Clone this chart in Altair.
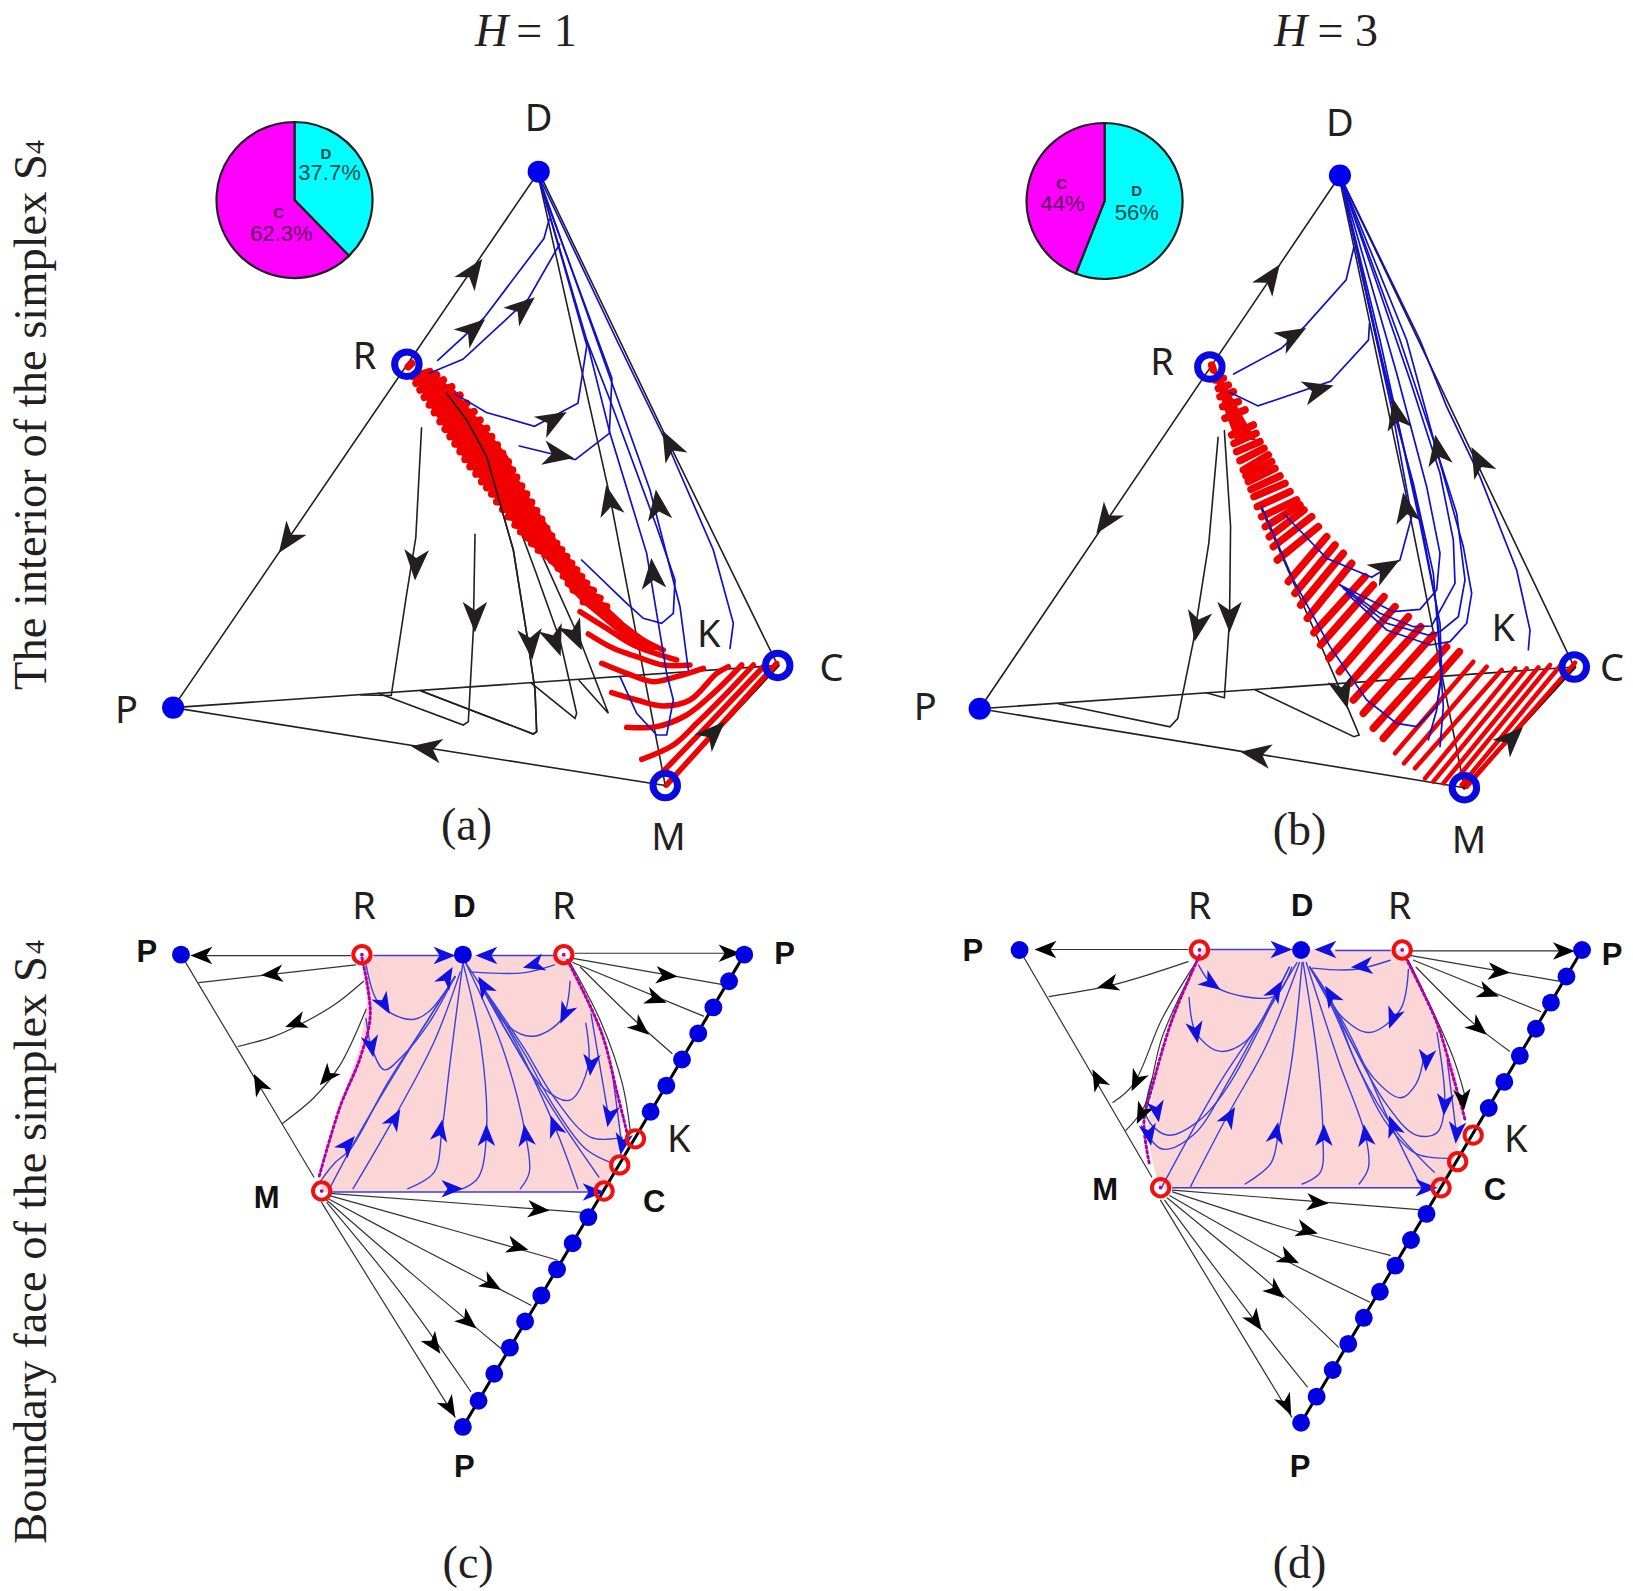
import altair as alt
import pandas as pd

# Reading frames: name -> (left, top, x factor, y factor). Every coordinate below was read in one of them.
CROPS = {
    "a": (0, 0, 1.912, 1.823),
    "b": (820, 0, 1.929, 1.823),
    "c": (0, 860, 1.912, 2.145),
    "d": (820, 860, 1.929, 2.145),
    "a5": (380, 340, 3, 3),
    "b6": (1180, 340, 3, 3),
}
INK = "#231f20"


def place(crop, pts):
    ox, oy, sx, sy = CROPS[crop]
    return [(ox + p[0] / sx, oy + p[1] / sy) + tuple(p[2:]) for p in pts]


# ---------- panel (a) ----------
A_STRAIGHT = [
    [(331, 1290), (1030, 313)],
    [(331, 1290), (1487, 1213)],
    [(331, 1290), (1272, 1432)],
    [(1030, 313), (1270, 790), (1487, 1213)],
    [(1030, 325), (1165, 900), (1272, 1432)],
    [(806, 780), (795, 980), (778, 1080), (748, 1268), (690, 1267)],
]
A5_BLACK = [
    [(285, 583), (280, 870), (265, 1145), (250, 1155), (-5, 1060)],
    [(200, 160), (260, 240), (320, 350), (400, 630), (440, 880), (465, 1050), (470, 1175), (460, 1182), (122, 1052)],
    [(320, 350), (365, 420), (465, 690), (540, 900), (590, 1120), (585, 1135), (455, 1030)],
    [(490, 655), (600, 900), (685, 1120), (598, 1022)],
]
A_BLUE = [
    [(837, 657), (925, 580), (1040, 435), (1050, 400)],
    [(822, 680), (885, 655), (1010, 545), (1070, 445)],
    [(870, 718), (930, 752), (1022, 777), (1105, 735), (1122, 630), (1035, 340)],
    [(993, 813), (1100, 838), (1165, 790), (1170, 690), (1035, 340)],
]
A5_BLUE = [
    [(605, 660), (740, 790), (790, 835), (845, 850), (880, 820), (885, 720), (830, 560), (690, 180), (620, 0), (471, -504)],
    [(620, 0), (690, 280), (800, 640), (860, 1000), (880, 1080), (860, 1185), (830, 1185), (770, 1120), (720, 1010)],
    [(471, -504), (650, 0), (810, 450), (900, 800), (925, 990)],
    [(471, -504), (710, 0), (870, 330), (1000, 630), (1060, 850), (1050, 925)],
]
A_EDGE_MC = [(1272, 1432), (1487, 1213)]
A5_FILL_Y = [95, 150, 200, 250, 300, 350, 400, 450, 500, 550, 600, 650, 700, 750, 800, 850, 900, 930]
A5_FILL_L = [95, 122, 150, 183, 215, 247, 285, 328, 363, 400, 437, 490, 540, 570, 620, 680, 740, 800]
A5_FILL_R = [150, 225, 265, 305, 345, 385, 405, 435, 465, 500, 530, 565, 597, 635, 682, 735, 800, 850]
A5_RED_BAND = [
    [(85, 80), (95, 70)], [(100, 110), (150, 95)], [(108, 130), (170, 105)], [(120, 150), (190, 120)],
    [(133, 172), (215, 140)], [(148, 195), (240, 165)], [(163, 218), (260, 190)], [(180, 245), (282, 215)],
    [(195, 268), (300, 240)], [(210, 290), (320, 265)], [(225, 312), (335, 290)], [(240, 335), (352, 315)],
    [(255, 358), (368, 340)], [(270, 380), (385, 365)], [(288, 402), (398, 390)], [(305, 425), (410, 412)],
    [(320, 443), (425, 438)], [(335, 462), (440, 462)], [(350, 485), (455, 487)], [(368, 508), (470, 512)],
    [(385, 530), (485, 538)], [(405, 555), (500, 565)], [(422, 575), (515, 588)], [(440, 592), (530, 610)],
    [(455, 610), (545, 630)], [(475, 630), (560, 650)], [(495, 645), (575, 670)], [(515, 662), (590, 690)],
    [(535, 685), (605, 710)], [(550, 708), (620, 730)], [(565, 730), (640, 752)], [(580, 750), (660, 775)],
    [(610, 785), (680, 800)],
]
A5_RED_FAN = [
    [(640, 790), (720, 850), (790, 900), (850, 930)],
    [(600, 815), (680, 865), (760, 915), (890, 960)],
    [(625, 882), (700, 925), (770, 950), (850, 975), (930, 975)],
    [(665, 970), (740, 1000), (820, 1025), (890, 1010), (970, 985)],
    [(695, 1058), (770, 1080), (850, 1098), (930, 1080), (1010, 1000), (1045, 980)],
    [(740, 1162), (830, 1160), (920, 1125), (1000, 1060), (1085, 975)],
    [(785, 1258), (880, 1215), (950, 1150), (1040, 1060), (1120, 975)],
    [(820, 1325), (960, 1180), (1155, 975)],
    [(860, 1335), (1190, 970)],
]
A_ARROWS = [
    (905, 495, 35), (550, 985, 215), (815, 1365, 279), (1365, 1335, 45), (1280, 810, 333),
    (1165, 912, 348), (905, 600, 50), (1000, 560, 50), (1058, 765, 60), (1068, 830, 100),
    (1258, 920, 352), (1248, 1045, 355), (795, 1030, 183), (908, 1125, 180),
    (1015, 1175, 175), (1062, 1170, 160), (1100, 1160, 155),
]
A_BLUE_DOTS = [(1030, 313), (331, 1290)]
A_RINGS = [(778, 664), (1272, 1432), (1487, 1213)]

# ---------- panel (b) ----------
B_STRAIGHT = [
    [(308, 1292), (1003, 320)],
    [(308, 1292), (1455, 1216)],
    [(308, 1292), (1243, 1436)],
    [(1003, 320), (1260, 830), (1455, 1216)],
    [(1003, 330), (1130, 900), (1243, 1436)],
    [(768, 797), (750, 990), (720, 1170), (690, 1310), (675, 1325), (460, 1283)],
    [(780, 785), (792, 960), (790, 1130), (780, 1272), (745, 1263)],
    [(850, 925), (1000, 1250), (1040, 1340), (1030, 1343), (840, 1258)],
]
B_BLUE = [
    [(798, 682), (890, 635), (935, 595), (1015, 510), (1030, 450)],
    [(790, 715), (845, 740), (985, 695), (1058, 620), (1060, 590)],
]
B6_BLUE = [
    [(480, -493), (645, 230), (700, 430), (760, 700), (780, 950), (790, 1100), (780, 1220)],
    [(480, -493), (590, 0), (650, 230), (720, 530), (770, 800), (785, 1000), (770, 1110), (745, 1200)],
    [(245, 500), (340, 720), (450, 920), (560, 1080), (650, 1150), (710, 1160), (770, 1100), (785, 1000), (780, 850), (720, 550), (600, 0), (480, -493)],
    [(315, 525), (440, 655), (575, 712), (660, 660), (695, 530), (640, 230), (480, -493)],
    [(480, 735), (640, 815), (720, 808), (770, 750), (780, 640), (740, 440), (650, 100), (480, -493)],
    [(480, 735), (600, 820), (700, 860), (755, 858), (825, 730), (820, 600), (780, 400), (690, 120), (480, -493)],
    [(490, 745), (620, 850), (745, 885), (780, 875), (835, 830), (855, 720), (830, 520), (760, 300), (660, 0), (480, -493)],
    [(500, 760), (620, 870), (750, 915), (810, 905), (860, 850), (875, 760), (850, 620), (775, 350), (680, 0), (480, -493)],
    [(1045, 930), (1050, 870), (1010, 690), (900, 410), (800, 200), (720, 0), (480, -493)],
]
B_EDGE_MC = [(1243, 1436), (1455, 1216)]
B6_FILL_Y = [75, 150, 200, 250, 300]
B6_FILL_L = [92, 116, 130, 148, 166]
B6_FILL_R = [100, 145, 172, 200, 228]
B6_RED_THICK = [
    [(95, 75), (100, 90)], [(105, 120), (130, 115)], [(115, 145), (145, 135)], [(120, 170), (160, 155)],
    [(128, 200), (175, 185)], [(135, 235), (195, 210)], [(155, 285), (220, 255)], [(162, 310), (228, 280)],
    [(170, 335), (240, 305)], [(180, 362), (252, 325)], [(190, 390), (265, 345)], [(198, 408), (275, 365)],
    [(205, 425), (285, 385)], [(213, 448), (300, 408)], [(222, 470), (315, 430)],
    [(232, 500), (330, 455)], [(245, 530), (350, 480)], [(256, 560), (360, 495)], [(268, 590), (372, 510)], [(280, 620), (395, 530)],
    [(292, 660), (415, 560)], [(325, 725), (440, 590)], [(345, 760), (465, 615)],
    [(362, 795), (490, 640)], [(382, 835), (515, 670)], [(402, 878), (555, 710)],
    [(422, 915), (580, 735)], [(447, 955), (612, 770)], [(478, 995), (645, 800)],
    [(510, 1030), (685, 830)], [(520, 1080), (722, 860)], [(550, 1120), (760, 885)],
    [(580, 1165), (800, 920)], [(610, 1195), (838, 935)],
]
B6_RED_THIN = [
    [(645, 1240), (880, 965)], [(672, 1270), (920, 980)], [(705, 1285), (965, 990)],
    [(735, 1315), (1005, 985)], [(760, 1325), (1040, 985)], [(790, 1330), (1075, 982)],
    [(815, 1335), (1110, 975)], [(845, 1335), (1145, 972)], [(860, 1340), (1185, 968)],
]
B_ARROWS = [
    (870, 505, 35), (550, 950, 215), (840, 1375, 279), (1335, 1345, 45), (1270, 840, 333),
    (1112, 755, 348), (1130, 925, 350), (1192, 820, 350), (912, 612, 60), (962, 710, 75),
    (1092, 1035, 60), (728, 1142, 190), (790, 1125, 180), (1010, 1265, 165),
]
B_BLUE_DOTS = [(1003, 320), (308, 1292)]
B_RINGS = [(752, 669), (1243, 1436), (1455, 1216)]

# ---------- panel (c) ----------
C_PINK_Y = [205, 300, 400, 530, 600, 712]
C_PINK_L = [692, 702, 688, 650, 630, 612]
C_PINK_R = [1080, 1128, 1160, 1185, 1190, 1155]
C_BLACK = [
    [(670, 205), (370, 205)], [(1100, 200), (1405, 200)], [(346, 203), (600, 680)],
    [(680, 225), (380, 263)],
    [(695, 260), (640, 310), (570, 355), (520, 380), (455, 400)],
    [(700, 320), (650, 440), (600, 510), (540, 565)],
    [(630, 715), (1125, 757)], [(630, 720), (885, 800), (1065, 858)],
    [(625, 725), (800, 830), (1015, 955)], [(625, 730), (790, 890), (960, 1050)],
    [(625, 735), (760, 920), (900, 1140)], [(615, 735), (870, 1195)],
    [(1090, 210), (1385, 268)], [(1095, 220), (1345, 335)],
    [(1110, 230), (1210, 340), (1285, 415)],
    [(1090, 220), (1150, 350), (1190, 480), (1205, 580)],
]
C_EDGE = [(885, 1216), (1423, 203)]
C_BLUE = [
    [(715, 205), (860, 205)], [(930, 205), (1060, 205)], [(635, 712), (1150, 712)],
    [(1060, 225), (1000, 242), (900, 240)],
    [(700, 225), (720, 300), (750, 330), (790, 342), (820, 325), (870, 250)],
    [(700, 340), (710, 400), (735, 450), (770, 420), (820, 350), (870, 250)],
    [(612, 690), (640, 650), (670, 620), (740, 480), (820, 340), (870, 250)],
    [(630, 705), (690, 580), (770, 430), (870, 250)],
    [(675, 705), (750, 560), (830, 390), (880, 240)],
    [(780, 705), (830, 670), (845, 580), (860, 440), (885, 220)],
    [(885, 705), (915, 680), (930, 590), (920, 400), (885, 220)],
    [(995, 705), (1012, 670), (1005, 590), (960, 400), (890, 220)],
    [(1105, 705), (1060, 570), (980, 380), (890, 220)],
    [(1145, 680), (1060, 540), (970, 370), (915, 260)],
    [(1170, 650), (1120, 620), (1060, 530), (1000, 410), (915, 260)],
    [(1190, 595), (1130, 595), (1060, 510), (1000, 400), (915, 260)],
    [(1120, 350), (1125, 440), (1090, 515), (1040, 490), (980, 390), (915, 260)],
    [(1090, 260), (1075, 340), (1020, 378), (970, 355), (915, 260)],
    [(1130, 330), (1165, 560)], [(1170, 450), (1190, 620)],
]
C_MAGENTA = [
    [(692, 210), (708, 330), (690, 420), (650, 530), (610, 680)],
    [(1085, 215), (1150, 370), (1180, 500), (1200, 590)],
]
C_ARROWS_BLACK = [
    (385, 205, 270), (1395, 200, 90), (495, 480, 333), (520, 245, 265), (565, 350, 250),
    (625, 465, 220), (1030, 750, 95), (990, 830, 105), (940, 910, 120), (895, 990, 130),
    (830, 1040, 145), (860, 1175, 150), (1275, 248, 95), (1255, 298, 110), (1225, 360, 130),
]
C_ARROWS_BLUE = [
    (850, 205, 90), (930, 205, 270), (1020, 225, 255), (735, 310, 150), (710, 400, 170),
    (665, 610, 40), (755, 555, 30), (842, 580, 10), (930, 590, 0), (1005, 590, 352),
    (1060, 570, 340), (925, 270, 330), (1130, 440, 185), (1080, 330, 205),
    (1165, 550, 190), (1190, 610, 190), (865, 705, 90), (1135, 712, 90), (855, 250, 30),
]
C_BLUE_DOTS = [
    (346, 203), (885, 203), (1423, 203), (885, 1216), (1394, 260), (1364, 316), (1335, 372),
    (1304, 428), (1274, 484), (1244, 540), (1125, 766), (1095, 822), (1065, 878), (1035, 934),
    (1004, 990), (975, 1046), (945, 1102), (915, 1160),
]
C_RINGS = [(692, 203), (1078, 203), (615, 710), (1155, 710), (1185, 654), (1215, 598)]
C_CENTERS = [(692, 203), (1078, 203), (615, 710)]

# ---------- panel (d) ----------
D_PINK_Y = [192, 310, 450, 580, 640, 705]
D_PINK_L = [732, 690, 650, 630, 640, 655]
D_PINK_R = [1125, 1170, 1225, 1240, 1225, 1198]
D_BLACK = [
    [(710, 192), (430, 192)], [(1140, 195), (1440, 195)], [(385, 193), (640, 680)],
    [(710, 218), (565, 268), (442, 293)],
    [(725, 220), (660, 340), (605, 480), (565, 520)],
    [(720, 235), (660, 380), (625, 530), (590, 580)],
    [(680, 708), (1155, 750)], [(680, 712), (900, 790), (1100, 848)],
    [(675, 720), (900, 860), (1060, 948)], [(670, 725), (880, 920), (1000, 1045)],
    [(665, 730), (840, 990), (940, 1130)], [(657, 730), (910, 1195)],
    [(1140, 205), (1425, 260)], [(1145, 215), (1390, 325)],
    [(1150, 230), (1260, 350), (1330, 410)],
    [(1135, 215), (1220, 420), (1245, 510)],
]
D_EDGE = [(928, 1207), (1470, 193)]
D_BLUE = [
    [(745, 192), (905, 192)], [(995, 194), (1100, 194)], [(680, 703), (1175, 703)],
    [(1100, 215), (1030, 235), (950, 232)],
    [(730, 225), (760, 270), (830, 295), (880, 290), (910, 230)],
    [(712, 295), (725, 370), (770, 410), (820, 390), (890, 270)],
    [(640, 470), (630, 550), (670, 590), (730, 560), (790, 480), (905, 230)],
    [(620, 570), (660, 620), (720, 590), (790, 470), (905, 230)],
    [(660, 700), (770, 480), (860, 330), (920, 220)],
    [(715, 700), (790, 540), (860, 400), (925, 220)],
    [(820, 695), (870, 650), (885, 580), (910, 430), (930, 220)],
    [(930, 695), (965, 670), (970, 590), (960, 430), (932, 220)],
    [(1040, 695), (1058, 660), (1052, 590), (1000, 430), (938, 220)],
    [(1155, 690), (1100, 565), (1020, 370), (945, 230)],
    [(1185, 670), (1110, 580), (1040, 450), (985, 300), (945, 230)],
    [(1210, 640), (1150, 630), (1090, 560), (1040, 450), (985, 310), (945, 230)],
    [(1135, 235), (1120, 320), (1060, 370), (1010, 340), (945, 230)],
    [(1165, 420), (1150, 480), (1120, 510), (1070, 470), (1000, 340), (945, 230)],
    [(1190, 370), (1205, 520), (1190, 585), (1150, 590), (1090, 520), (985, 300)],
    [(1210, 430), (1228, 590)],
]
D_MAGENTA = [
    [(732, 205), (680, 340), (640, 490), (625, 560), (635, 650)],
    [(1130, 210), (1190, 350), (1220, 460), (1245, 560)],
]
D_ARROWS_BLACK = [
    (435, 192, 270), (1435, 195, 90), (535, 470, 333), (555, 268, 255), (610, 475, 205),
    (620, 545, 205), (960, 735, 95), (940, 795, 105), (905, 855, 115), (880, 925, 130),
    (840, 990, 145), (900, 1170, 155), (1310, 240, 95), (1290, 285, 110), (1270, 360, 130),
    (1240, 515, 175),
]
D_ARROWS_BLUE = [
    (890, 192, 90), (975, 192, 270), (1045, 228, 265), (755, 265, 125), (725, 370, 170),
    (650, 540, 170), (635, 590, 170), (790, 550, 30), (880, 585, 10), (972, 590, 0),
    (1052, 590, 352), (1105, 570, 340), (1105, 340, 200), (985, 290, 330), (1170, 430, 185),
    (1205, 525, 185), (1228, 585, 185), (1170, 703, 90), (880, 280, 30),
]
D_BLUE_DOTS = [
    (385, 193), (928, 193), (1470, 193), (928, 1207), (1440, 250), (1410, 306), (1381, 362),
    (1350, 420), (1320, 476), (1290, 532), (1170, 759), (1140, 815), (1110, 870), (1080, 926),
    (1049, 982), (1019, 1038), (989, 1094), (958, 1151),
]
D_RINGS = [(732, 193), (1123, 193), (657, 703), (1198, 703), (1230, 647), (1260, 590)]
D_CENTERS = [(732, 193), (1123, 193), (657, 703)]

# ---------- pies (real picture coordinates) ----------
PIE_CENTERS = [(294.5, 200), (1104.6, 201)]
PIE_D_SHARE = [0.377, 0.56]
PIE_NAMES = ["D", "C"]
PIE_COLORS = ["#00ffff", "#ff00ff"]

# ---------- text: (crop, x, y, string) ----------
SANS_LABELS = [
    ("a", 1030, 218, "D"), ("a", 697, 652, "R"), ("a", 242, 1298, "P"), ("a", 1355, 1160, "K"),
    ("a", 1590, 1222, "C"), ("a", 1278, 1530, "M"),
    ("b", 1003, 228, "D"), ("b", 660, 664, "R"), ("b", 203, 1293, "P"), ("b", 1318, 1148, "K"),
    ("b", 1528, 1222, "C"), ("b", 1252, 1535, "M"),
    ("c", 696, 102, "R"), ("c", 1078, 102, "R"), ("c", 1298, 602, "K"),
    ("d", 732, 102, "R"), ("d", 1118, 102, "R"), ("d", 1342, 602, "K"),
]
BOLD_LABELS = [
    ("c", 888, 104, "D"), ("c", 281, 200, "P"), ("c", 1500, 204, "P"), ("c", 510, 728, "M"),
    ("c", 1251, 735, "C"), ("c", 888, 1304, "P"),
    ("d", 930, 100, "D"), ("d", 295, 197, "P"), ("d", 1528, 205, "P"), ("d", 550, 710, "M"),
    ("d", 1302, 710, "C"), ("d", 926, 1304, "P"),
]
SERIF_LABELS = [
    ("a", 892, 1505, "(a)"), ("b", 925, 1515, "(b)"), ("c", 895, 1510, "(c)"), ("d", 925, 1510, "(d)"),
    ("a", 1045, 58, "= 1"), ("b", 1018, 58, "= 3"),
]
ITALIC_LABELS = [("a", 940, 58, "H"), ("b", 908, 58, "H")]
SIDE_LABELS = [
    (32, 422, "The interior of the simplex S"),
    (32, 1250, "Boundary face of the simplex S"),
]
SIDE_SUBS = [(36, 147, "4"), (36, 947, "4")]
PIE_LETTERS = [
    ("a", 623, 281, "D", "#00474f"), ("a", 533, 389, "C", "#5c005c"),
    ("b", 611, 348, "D", "#00474f"), ("b", 466, 335, "C", "#5c005c"),
]
PIE_PERCENTS = [
    ("a", 630, 315, "37.7%", "#00474f"), ("a", 538, 426, "62.3%", "#5c005c"),
    ("b", 611, 388, "56%", "#00474f"), ("b", 468, 372, "44%", "#5c005c"),
]

X = alt.X("x:Q", axis=None, scale=alt.Scale(domain=[8, 1625], nice=False, zero=False))
Y = alt.Y("y:Q", axis=None, scale=alt.Scale(domain=[1591, 8], nice=False, zero=False))


def line_table(groups):
    rows, n = [], 0
    for crop, lines_ in groups:
        for pts in lines_:
            n += 1
            for i, p in enumerate(place(crop, pts)):
                rows.append({"x": p[0], "y": p[1], "id": n, "i": i})
    return pd.DataFrame(rows)


def lines(groups, color, width, interpolate="linear", **kw):
    return alt.Chart(line_table(groups)).mark_line(
        color=color, strokeWidth=width, interpolate=interpolate, strokeCap="round", **kw
    ).encode(x=X, y=Y, detail="id:N", order="i:Q")


def table(crop_lists, cols):
    rows = []
    for crop, items in crop_lists:
        rows += place(crop, items)
    return pd.DataFrame(rows, columns=cols)


def dots(groups, size, color):
    return alt.Chart(table(groups, ["x", "y"])).mark_point(
        shape="circle", filled=True, size=size, color=color, opacity=1
    ).encode(x=X, y=Y)


def rings(groups, size, color, width):
    return alt.Chart(table(groups, ["x", "y"])).mark_point(
        shape="circle", filled=False, size=size, color=color, strokeWidth=width, opacity=1
    ).encode(x=X, y=Y)


HEAD = "M0,-1 L0.8,1 L0,0.45 L-0.8,1 Z"


def arrows(groups, size, color):
    return alt.Chart(table(groups, ["x", "y", "angle"])).mark_point(
        shape=HEAD, filled=True, size=size, color=color, opacity=1, strokeWidth=0
    ).encode(x=X, y=Y, angle=alt.Angle("angle:Q", scale=None))


def texts(items, font, size, color=INK, **kw):
    rows = []
    for it in items:
        p = place(it[0], [it[1:3]])[0]
        rows.append({"x": p[0], "y": p[1], "t": it[3]})
    return alt.Chart(pd.DataFrame(rows)).mark_text(
        font=font, fontSize=size, color=color, align="center", baseline="middle", **kw
    ).encode(x=X, y=Y, text="t:N")


def colored_texts(items, font, size, **kw):
    rows = []
    for it in items:
        p = place(it[0], [it[1:3]])[0]
        rows.append({"x": p[0], "y": p[1], "t": it[3], "c": it[4]})
    return alt.Chart(pd.DataFrame(rows)).mark_text(
        font=font, fontSize=size, align="center", baseline="middle", **kw
    ).encode(x=X, y=Y, text="t:N", color=alt.Color("c:N", scale=None))


def band(crop, ys, ls, rs, color):
    rows = []
    for y, l, r in zip(ys, ls, rs):
        a = place(crop, [(l, y)])[0]
        b = place(crop, [(r, y)])[0]
        rows.append({"x": a[0], "x2": b[0], "y": a[1]})
    return alt.Chart(pd.DataFrame(rows)).mark_area(
        color=color, orient="horizontal", opacity=1
    ).encode(x=X, x2="x2:Q", y=Y)


def pie_table():
    rows = []
    tau = 6.283185
    for (cx, cy), share in zip(PIE_CENTERS, PIE_D_SHARE):
        rows.append({"x": cx, "y": cy, "t0": 0, "t1": share * tau, "n": PIE_NAMES[0], "c": PIE_COLORS[0]})
        rows.append({"x": cx, "y": cy, "t0": share * tau, "t1": tau, "n": PIE_NAMES[1], "c": PIE_COLORS[1]})
    return pd.DataFrame(rows)


pies = alt.Chart(pie_table()).mark_arc(
    outerRadius=78, stroke=INK, strokeWidth=2.2
).encode(
    x=X, y=Y,
    theta=alt.Theta("t0:Q", scale=None), theta2="t1:Q",
    color=alt.Color("c:N", scale=None),
)

side = alt.Chart(pd.DataFrame(SIDE_LABELS, columns=["x", "y", "t"])).mark_text(
    font="Liberation Serif", fontSize=46.5, color=INK, angle=270, align="center", baseline="middle"
).encode(x=X, y=Y, text="t:N")
side_sub = alt.Chart(pd.DataFrame(SIDE_SUBS, columns=["x", "y", "t"])).mark_text(
    font="Liberation Serif", fontSize=28, color=INK, angle=270, align="center", baseline="middle"
).encode(x=X, y=Y, text="t:N")

layers = [
    band("c", C_PINK_Y, C_PINK_L, C_PINK_R, "#fcd6d6"),
    band("d", D_PINK_Y, D_PINK_L, D_PINK_R, "#fcd6d6"),
    lines([("c", C_BLUE), ("d", D_BLUE)], "#3a40dc", 1.4, "catmull-rom"),
    lines([("c", C_BLACK), ("d", D_BLACK)], "#333333", 1.2, "catmull-rom"),
    lines([("c", C_MAGENTA), ("d", D_MAGENTA)], "#b000a8", 3, "catmull-rom", strokeDash=[2, 3]),
    lines([("c", [C_EDGE]), ("d", [D_EDGE])], "#000000", 3),
    lines([("a", A_STRAIGHT), ("b", B_STRAIGHT), ("a5", A5_BLACK)], INK, 1.6),
    lines([("a", [A_EDGE_MC]), ("b", [B_EDGE_MC])], INK, 4),
    band("a5", A5_FILL_Y, A5_FILL_L, A5_FILL_R, "#f00000"),
    band("b6", B6_FILL_Y, B6_FILL_L, B6_FILL_R, "#f00000"),
    lines([("a5", A5_RED_BAND), ("b6", B6_RED_THICK)], "#f00000", 7.5),
    lines([("a5", A5_RED_FAN)], "#f00000", 5.5, "catmull-rom"),
    lines([("b6", B6_RED_THIN)], "#f00000", 4.5),
    lines([("a", A_BLUE), ("b", B_BLUE), ("a5", A5_BLUE), ("b6", B6_BLUE)], "#1010c8", 1.7),
    lines([("a5", A5_BLACK[1:2])], INK, 1.6),
    arrows([("a", A_ARROWS), ("b", B_ARROWS)], 950, INK),
    arrows([("c", C_ARROWS_BLACK), ("d", D_ARROWS_BLACK)], 480, "#000000"),
    arrows([("c", C_ARROWS_BLUE), ("d", D_ARROWS_BLUE)], 480, "#1010e0"),
    dots([("a", A_BLUE_DOTS), ("b", B_BLUE_DOTS)], 490, "#0000f0"),
    dots([("c", C_BLUE_DOTS), ("d", D_BLUE_DOTS)], 320, "#0000e0"),
    rings([("a", A_RINGS), ("b", B_RINGS)], 600, "#0a0ae0", 7),
    rings([("c", C_RINGS), ("d", D_RINGS)], 300, "#f01010", 4),
    dots([("c", C_CENTERS), ("d", D_CENTERS)], 14, "#b000a8"),
    pies,
    texts(SANS_LABELS, "Noto Sans", 38),
    texts(BOLD_LABELS, "Liberation Sans", 31, color="#111111", fontWeight="bold"),
    texts(SERIF_LABELS, "Liberation Serif", 46),
    texts(ITALIC_LABELS, "Liberation Serif", 46, fontStyle="italic"),
    colored_texts(PIE_LETTERS, "Liberation Sans", 15, fontWeight="bold"),
    colored_texts(PIE_PERCENTS, "Liberation Sans", 22),
    side,
    side_sub,
]

chart = alt.layer(*layers).properties(
    width=1617, height=1583, padding=0, background="white",
    autosize=alt.AutoSizeParams(type="none")
).configure_view(stroke=None)

chart.save("out.html", embed_options={"renderer": "svg", "actions": False})
